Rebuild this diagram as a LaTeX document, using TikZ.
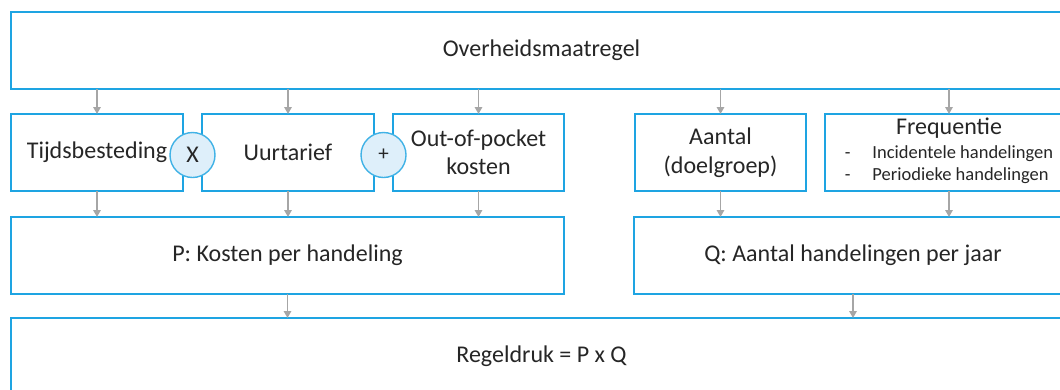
\documentclass[tikz,border=0pt]{standalone}
\usepackage{fontspec}
\setmainfont{Carlito}
\usetikzlibrary{arrows.meta, positioning}
\definecolor{boxblue}{RGB}{30,164,226}
\definecolor{opfill}{RGB}{222,239,250}
\definecolor{arrowgray}{RGB}{166,166,166}
\definecolor{txt}{RGB}{38,38,38}

\begin{document}
\begin{tikzpicture}[x=1pt, y=-1pt,
        box/.style={rectangle, draw=boxblue, line width=1.5pt, fill=white, minimum height=77pt, align=center, inner sep=2pt, outer sep=0pt, text=txt, font=\fontsize{24}{28.5}\selectfont},
        op/.style={circle, draw=boxblue!85, line width=1.4pt, fill=opfill, minimum size=45pt, inner sep=0pt, text=txt, font=\fontsize{24}{28}\selectfont},
        arrow/.style={-{Triangle[length=7pt,width=7.5pt]}, draw=arrowgray, line width=1.6pt}
    ]
        \useasboundingbox (0,0) rectangle (1060,389);
        \clip (0,0) rectangle (1060,389);

        % Top
        \node[box, minimum width=1061pt] (maatregel) at (541.5, 50.5) {Overheidsmaatregel};

        % P side
        \node[box, minimum width=172pt] (tijd) at (97, 152.5) {Tijdsbesteding};
        \node[box, minimum width=172pt] (tarief) at (288, 152.5) {Uurtarief};
        \node[box, minimum width=171pt] (oop) at (478.5, 152.5) {Out-of-pocket\\kosten};

        % Q side
        \node[box, minimum width=171pt] (aantal) at (720.5, 152.5) {Aantal\\(doelgroep)};
        \node[box, minimum width=248pt] (freq) at (949, 152.5) {Frequentie\\[-4.5pt]
            {\fontsize{18.5}{22}\selectfont\begin{tabular}[t]{@{}l@{\hspace{22pt}}l@{}}
                - & Incidentele handelingen\\
                - & Periodieke handelingen
            \end{tabular}}};

        % Operators
        \node[op] (maal) at (192.5, 155) {X};
        \node[op, font=\fontsize{21}{24}\selectfont] (plus) at (383.5, 155) {+};

        % P and Q
        \node[box, minimum width=553pt] (p) at (287.5, 255.5) {P: Kosten per handeling};
        \node[box, minimum width=438pt] (q) at (853, 255.5) {Q: Aantal handelingen per jaar};

        % Result
        \node[box, minimum width=1061pt] (regeldruk) at (541.5, 356.5) {Regeldruk = P x Q};

        % Arrows from top
        \draw[arrow] (tijd |- maatregel.south) -- (tijd.north);
        \draw[arrow] (tarief |- maatregel.south) -- (tarief.north);
        \draw[arrow] (oop |- maatregel.south) -- (oop.north);
        \draw[arrow] (aantal |- maatregel.south) -- (aantal.north);
        \draw[arrow] (freq |- maatregel.south) -- (freq.north);

        % Arrows to P and Q
        \draw[arrow] (tijd.south) -- (tijd |- p.north);
        \draw[arrow] (tarief.south) -- (tarief |- p.north);
        \draw[arrow] (oop.south) -- (oop |- p.north);
        \draw[arrow] (aantal.south) -- (aantal |- q.north);
        \draw[arrow] (freq.south) -- (freq |- q.north);

        % Arrows to result
        \draw[arrow] (p.south) -- (p |- regeldruk.north);
        \draw[arrow] (q.south) -- (q |- regeldruk.north);
    \end{tikzpicture}
\end{document}
